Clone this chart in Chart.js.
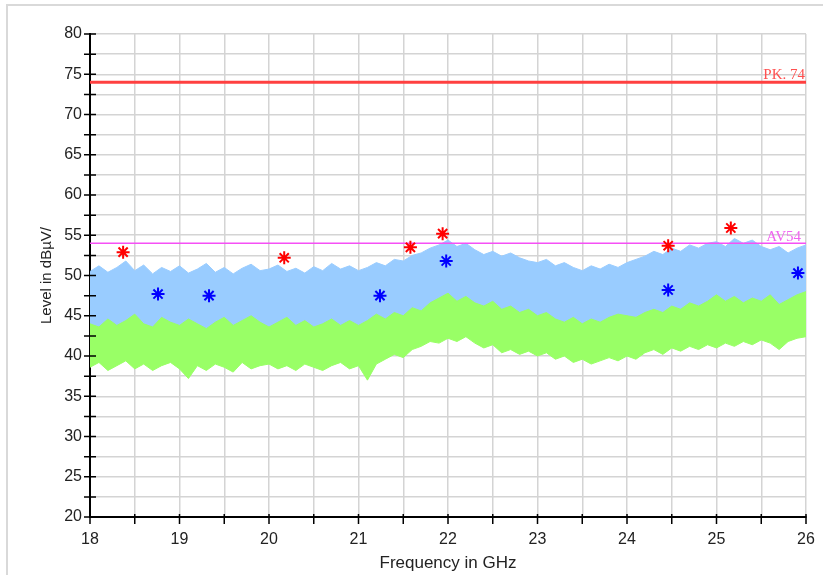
<!DOCTYPE html>
<html>
<head>
<meta charset="utf-8">
<script src="https://cdn.jsdelivr.net/npm/chart.js@4/dist/chart.umd.min.js"></script>
<style>
  html, body { margin: 0; padding: 0; background: #fff; }
  #wrap { width: 823px; height: 575px; position: relative; }
</style>
</head>
<body>
<div id="wrap"><canvas id="emi"></canvas></div>
<script>
// frequency grid of the traces (GHz)
const freq = [
  18.0, 18.1, 18.2, 18.3, 18.4, 18.5, 18.6, 18.7, 18.8, 18.9,
  19.0, 19.1, 19.2, 19.3, 19.4, 19.5, 19.6, 19.7, 19.8, 19.9,
  20.0, 20.1, 20.2, 20.3, 20.4, 20.5, 20.6, 20.7, 20.8, 20.9,
  21.0, 21.1, 21.2, 21.3, 21.4, 21.5, 21.6, 21.7, 21.8, 21.9,
  22.0, 22.1, 22.2, 22.3, 22.4, 22.5, 22.6, 22.7, 22.8, 22.9,
  23.0, 23.1, 23.2, 23.3, 23.4, 23.5, 23.6, 23.7, 23.8, 23.9,
  24.0, 24.1, 24.2, 24.3, 24.4, 24.5, 24.6, 24.7, 24.8, 24.9,
  25.0, 25.1, 25.2, 25.3, 25.4, 25.5, 25.6, 25.7, 25.8, 25.9,
  26.0
];

// peak trace envelope (blue)
const peakHigh = [
  50.5, 51.2, 50.4, 51.0, 51.8, 50.6, 51.3, 50.2, 51.0, 50.5,
  51.2, 50.3, 50.8, 51.5, 50.4, 51.0, 50.2, 50.9, 51.4, 50.6,
  50.8, 51.3, 50.5, 50.9, 50.3, 51.1, 50.6, 51.5, 50.8, 51.2,
  50.6, 51.0, 51.6, 51.2, 52.0, 51.8, 52.5, 52.8, 53.4, 53.8,
  54.4, 53.6, 54.0, 53.2, 52.6, 53.0, 52.4, 52.8, 52.2, 51.8,
  51.6, 52.0, 51.2, 51.6, 51.0, 50.6, 51.2, 50.8, 51.4, 51.0,
  51.6, 52.0, 52.4, 53.0, 52.6, 53.4, 53.0, 53.8, 53.4, 54.0,
  54.2, 53.6, 54.6, 54.0, 54.4, 53.6, 53.2, 53.6, 52.8, 53.4,
  53.8
];
const peakLow = [
  43.0, 42.8, 43.2, 42.6, 43.0, 43.4, 42.8, 42.6, 43.2, 43.0,
  42.6, 43.2, 42.8, 42.4, 43.0, 43.4, 42.6, 43.0, 43.4, 42.8,
  42.4, 43.0, 43.2, 42.6, 43.0, 42.4, 42.8, 43.2, 42.6, 43.0,
  42.6, 43.0, 43.6, 43.2, 43.8, 43.6, 44.4, 44.2, 45.0, 45.6,
  46.0, 45.4, 45.8, 45.0, 44.8, 45.2, 44.4, 44.6, 44.0, 44.2,
  43.6, 43.8, 43.2, 42.8, 43.4, 42.6, 43.2, 42.8, 43.4, 43.6,
  43.6, 43.4, 43.8, 44.2, 44.0, 44.6, 44.2, 45.0, 44.6, 45.2,
  45.6, 45.0, 45.6, 45.0, 45.4, 45.0, 45.8, 44.8, 45.4, 45.8,
  46.0
];

// average trace envelope (green)
const avgHigh = [
  44.0, 43.6, 44.6, 43.8, 44.4, 45.2, 44.0, 43.6, 44.8, 44.2,
  43.8, 44.6, 44.0, 43.4, 44.2, 44.8, 43.8, 44.4, 45.0, 44.2,
  43.6, 44.2, 44.8, 43.8, 44.4, 43.6, 44.0, 44.6, 43.8, 44.4,
  43.8, 44.4, 45.2, 44.6, 45.4, 45.0, 46.0, 45.6, 46.6, 47.2,
  47.8, 46.8, 47.4, 46.6, 46.2, 46.8, 45.8, 46.2, 45.4, 45.8,
  45.0, 45.4, 44.6, 44.2, 44.8, 44.0, 44.6, 44.2, 44.8, 45.2,
  45.0, 44.8, 45.4, 45.8, 45.4, 46.2, 45.8, 46.6, 46.2, 46.8,
  47.6, 46.8, 47.4, 46.6, 47.2, 46.8, 47.6, 46.4, 47.0, 47.6,
  48.0
];
const avgLow = [
  38.6, 39.2, 38.2, 38.8, 39.4, 38.4, 39.0, 38.2, 38.8, 39.2,
  38.4, 37.2, 38.8, 38.2, 39.0, 38.6, 38.0, 39.2, 38.4, 38.8,
  39.0, 38.4, 38.8, 38.2, 39.0, 38.6, 38.2, 38.8, 39.2, 38.4,
  38.8, 37.0, 39.0, 39.6, 40.2, 39.8, 40.8, 41.2, 41.8, 41.6,
  42.2, 41.8, 42.4, 41.6, 41.0, 41.4, 40.4, 40.8, 40.2, 40.6,
  40.0, 40.4, 39.6, 40.0, 39.2, 39.6, 39.0, 39.4, 39.8, 39.4,
  40.0, 39.6, 40.4, 40.8, 40.2, 41.0, 40.6, 41.2, 40.8, 41.4,
  41.0, 41.6, 41.2, 41.8, 41.4, 42.0, 41.6, 40.8, 41.8, 42.2,
  42.4
];

// final measurement markers
const pkFreq = [18.37, 20.17, 21.58, 21.94, 24.46, 25.16];
const pkLevel = [52.9, 52.2, 53.5, 55.2, 53.7, 55.9];
const avFreq = [18.76, 19.33, 21.24, 21.98, 24.46, 25.91];
const avLevel = [47.7, 47.5, 47.5, 51.8, 48.2, 50.3];

// limit lines
const limitFreq = [18, 26];
const pkLimit = [74, 74];
const avLimit = [54, 54];

const xyOf = (xs, ys) => xs.map((x, i) => ({ x: x, y: ys[i] }));

const BLUE = 'rgb(153, 204, 255)';
const GREEN = 'rgb(153, 255, 102)';
const SANS = '"Liberation Sans", Arial, sans-serif';

// tick marks crossing the axes, frame, limit labels
const decor = {
  id: 'decor',
  beforeDraw(chart) {
    const ctx = chart.ctx;
    ctx.save();
    ctx.strokeStyle = '#d9d9d9';
    ctx.lineWidth = 2;
    ctx.beginPath();
    ctx.moveTo(7, 575);
    ctx.lineTo(7, 5);
    ctx.lineTo(823, 5);
    ctx.stroke();
    ctx.restore();
  },
  afterDraw(chart) {
    const ctx = chart.ctx;
    const xs = chart.scales.x, ys = chart.scales.y;
    const a = chart.chartArea;
    ctx.save();
    ctx.strokeStyle = '#000';
    ctx.lineWidth = 1.5;
    ctx.beginPath();
    xs.ticks.forEach(t => {
      const px = xs.getPixelForValue(t.value);
      ctx.moveTo(px, a.bottom - 3);
      ctx.lineTo(px, a.bottom + 7);
    });
    ys.ticks.forEach(t => {
      const py = ys.getPixelForValue(t.value);
      ctx.moveTo(a.left - 6, py);
      ctx.lineTo(a.left + 6, py);
    });
    ctx.stroke();

    ctx.font = '15px "Liberation Serif", "DejaVu Serif", serif';
    ctx.textAlign = 'right';
    ctx.textBaseline = 'alphabetic';
    ctx.fillStyle = 'rgb(255, 80, 80)';
    ctx.fillText('PK. 74', a.right - 1, ys.getPixelForValue(pkLimit[0]) - 3);
    ctx.fillStyle = 'rgb(240, 100, 240)';
    ctx.fillText('AV54', a.right - 5, ys.getPixelForValue(avLimit[0]) - 2);
    ctx.restore();
  }
};

new Chart(document.getElementById('emi'), {
  type: 'line',
  data: {
    datasets: [
      { data: xyOf(pkFreq, pkLevel), showLine: false, pointStyle: 'star', pointRadius: 6.5,
        borderColor: 'rgb(255, 0, 0)', backgroundColor: 'rgb(255, 0, 0)', pointBorderWidth: 2, order: 0 },
      { data: xyOf(avFreq, avLevel), showLine: false, pointStyle: 'star', pointRadius: 6.5,
        borderColor: 'rgb(0, 0, 255)', backgroundColor: 'rgb(0, 0, 255)', pointBorderWidth: 2, order: 0 },
      { data: xyOf(limitFreq, pkLimit), borderColor: 'rgb(255, 64, 64)', borderWidth: 3, pointRadius: 0, order: 1 },
      { data: xyOf(limitFreq, avLimit), borderColor: 'rgb(245, 80, 245)', borderWidth: 1.5, pointRadius: 0, order: 1 },
      { data: xyOf(freq, avgHigh), borderColor: GREEN, backgroundColor: GREEN, borderWidth: 1,
        pointRadius: 0, fill: '+1', order: 2 },
      { data: xyOf(freq, avgLow), borderColor: GREEN, borderWidth: 1, pointRadius: 0, fill: false, order: 2 },
      { data: xyOf(freq, peakHigh), borderColor: BLUE, backgroundColor: BLUE, borderWidth: 1,
        pointRadius: 0, fill: '+1', order: 3 },
      { data: xyOf(freq, peakLow), borderColor: BLUE, borderWidth: 0, pointRadius: 0, fill: false, order: 3 }
    ]
  },
  options: {
    responsive: true,
    maintainAspectRatio: false,
    animation: false,
    events: [],
    layout: { padding: { left: 34, right: 17, top: 34, bottom: 0 } },
    plugins: { legend: { display: false }, tooltip: { enabled: false } },
    elements: { line: { tension: 0 } },
    scales: {
      x: {
        type: 'linear', min: 18, max: 26,
        afterFit(s) { s.height = 58; s.paddingLeft = 0; s.paddingRight = 0; },
        border: { color: '#000', width: 2 },
        grid: { color: '#d4d4d4', lineWidth: 1.5, drawTicks: false },
        ticks: {
          stepSize: 0.5, autoSkip: false, maxRotation: 0, padding: 13,
          color: '#222', font: { family: SANS, size: 16 },
          callback: v => Number.isInteger(v) ? v : ''
        },
        title: { display: true, text: 'Frequency in GHz', color: '#222', padding: { top: 0, bottom: 1 },
          font: { family: SANS, size: 17 } }
      },
      y: {
        min: 20, max: 80,
        afterFit(s) { s.width = 56; s.paddingTop = 0; s.paddingBottom = 0; },
        border: { color: '#000', width: 2 },
        grid: { color: '#d4d4d4', lineWidth: 1.5, drawTicks: false },
        ticks: {
          stepSize: 2.5, autoSkip: false, padding: 8,
          color: '#222', font: { family: SANS, size: 16 },
          callback: v => v % 5 === 0 ? v : ''
        },
        title: { display: true, text: 'Level in dBµV/', color: '#222',
          font: { family: SANS, size: 15 } }
      }
    }
  },
  plugins: [decor]
});
</script>
</body>
</html>
